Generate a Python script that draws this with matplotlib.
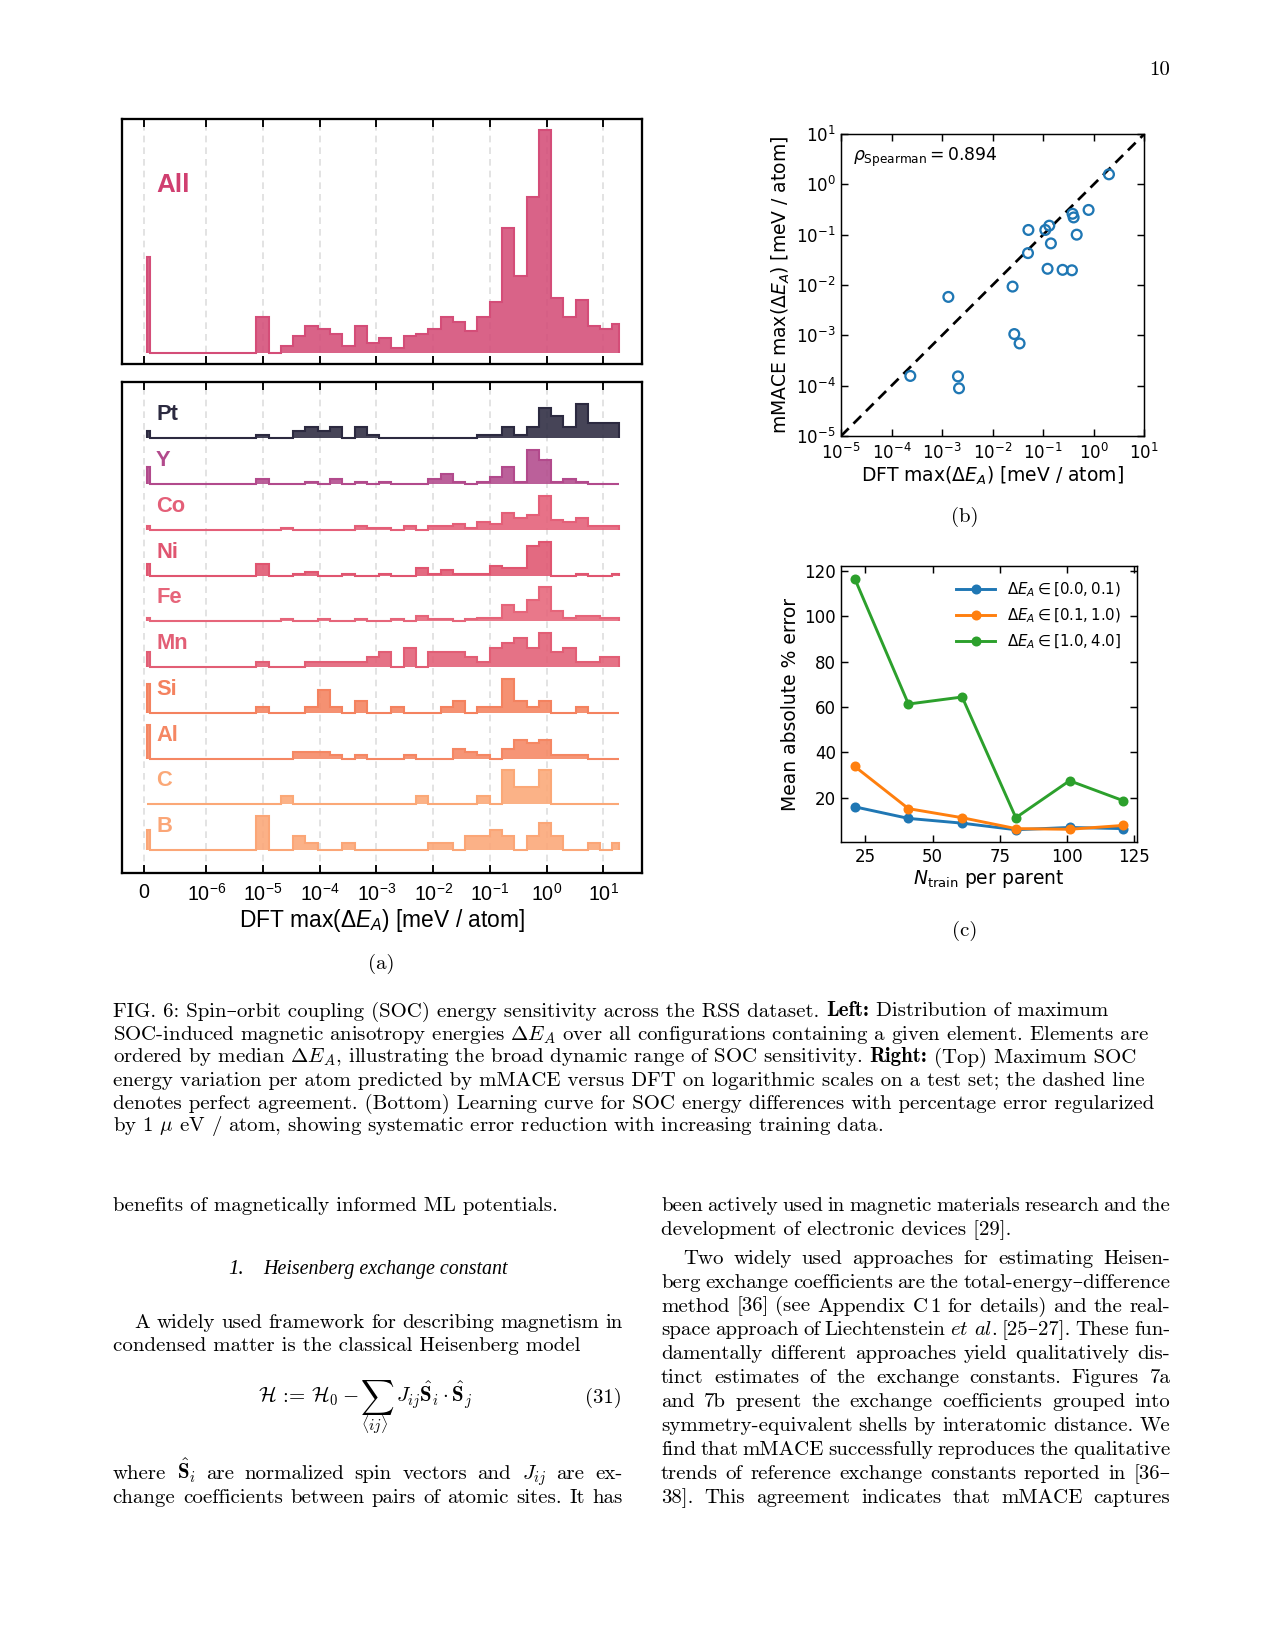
import numpy as np
import matplotlib
matplotlib.use('Agg')
import matplotlib.pyplot as plt
from matplotlib.ticker import NullLocator

W, H = 1275, 1651
DPI = 150

plt.rcParams['mathtext.fontset'] = 'dejavusans'
plt.rcParams['mathtext.rm'] = 'Liberation Sans'
plt.rcParams['mathtext.it'] = 'Liberation Sans:italic'
plt.rcParams['mathtext.bf'] = 'Liberation Sans:bold'

# ---------------- data ----------------
# (a) histograms of DFT max(dE_A), log10 bins; the first bin holds the exact zeros
zero_tick = -7.10
zero_bin = [-7.054, -6.988]
bin_first, bin_last_full, bin_end = -5.119, 1.160, 1.267

all_zero = 40
all_counts = [15, 0, 3, 7, 11, 10, 8, 3, 11, 4, 6, 2, 7, 8, 10, 15, 13, 9, 15, 21,
              52, 32, 65, 93, 23, 15, 22, 11, 10, 12]

elements = ['Pt', 'Y', 'Co', 'Ni', 'Fe', 'Mn', 'Si', 'Al', 'C', 'B']
el_zero = [2, 7, 2, 6, 2, 3, 5, 11, 0, 3]
el_counts = [
    [1, 0, 0, 2, 3, 2, 3, 0, 3, 1, 0, 0, 0, 0, 0, 0, 0, 0, 1, 1, 3, 1, 3, 8, 6, 3, 9, 4, 4, 4],
    [2, 0, 0, 0, 1, 0, 2, 0, 1, 0, 1, 0, 0, 0, 2, 4, 1, 0, 1, 3, 7, 1, 14, 10, 1, 2, 1, 0, 0, 0],
    [0, 0, 1, 0, 0, 0, 0, 0, 2, 1, 1, 0, 2, 0, 2, 2, 3, 1, 4, 3, 9, 6, 8, 18, 5, 4, 6, 2, 2, 2],
    [6, 0, 0, 1, 2, 0, 0, 1, 0, 0, 1, 0, 0, 4, 1, 3, 1, 1, 1, 5, 4, 4, 15, 17, 0, 0, 1, 0, 0, 1],
    [0, 0, 1, 0, 0, 1, 0, 0, 1, 0, 0, 1, 0, 3, 1, 1, 0, 1, 2, 2, 9, 5, 12, 19, 6, 2, 3, 3, 2, 2],
    [1, 0, 0, 0, 1, 1, 1, 1, 1, 2, 3, 0, 4, 0, 3, 3, 3, 2, 1, 4, 5, 6, 4, 7, 3, 4, 1, 1, 2, 2],
    [1, 0, 0, 0, 1, 4, 1, 0, 2, 0, 0, 1, 0, 0, 0, 1, 2, 0, 1, 1, 6, 2, 1, 2, 0, 0, 1, 0, 0, 0],
    [0, 0, 0, 2, 2, 2, 1, 0, 1, 0, 0, 0, 1, 0, 0, 0, 3, 2, 1, 0, 3, 6, 5, 6, 1, 1, 1, 0, 0, 0],
    [0, 0, 1, 0, 0, 0, 0, 0, 0, 0, 0, 0, 0, 1, 0, 0, 0, 0, 1, 0, 4, 2, 2, 4, 0, 0, 0, 0, 0, 0],
    [5, 0, 0, 2, 1, 0, 0, 1, 0, 0, 0, 0, 0, 0, 1, 1, 0, 2, 2, 3, 2, 0, 2, 4, 2, 0, 0, 1, 0, 1],
]
all_color = '#d44d78'
el_colors = ['#2c2a40', '#b24a8c', '#e45f78', '#e05570', '#e6657a', '#e25e75',
             '#f4825f', '#f58763', '#fba877', '#fba677']

# (b) mMACE vs DFT max(dE_A) [meV / atom]
dft_max = [2.0, 0.79, 0.38, 0.40, 0.46, 0.132, 0.11, 0.051, 0.142, 0.050,
           0.122, 0.242, 0.37, 0.0248, 0.00133, 0.0268, 0.0341, 0.000235, 0.00206, 0.00216]
mace_max = [1.58, 0.31, 0.26, 0.22, 0.10, 0.151, 0.124, 0.124, 0.067, 0.043,
            0.021, 0.020, 0.0196, 0.0093, 0.0058, 0.00106, 0.00069, 0.000156, 0.000153, 0.0000886]
rho_spearman = 0.894

# (c) learning curve
n_train = [21, 41, 61, 81, 101, 121]
err_low = [16.0, 10.9, 8.8, 5.9, 6.9, 6.4]
err_mid = [33.8, 15.2, 11.2, 6.4, 6.1, 7.8]
err_high = [116.6, 61.3, 64.4, 11.2, 27.5, 18.7]
range_labels = [r'$\Delta E_A \in [0.0, 0.1)$', r'$\Delta E_A \in [0.1, 1.0)$',
                r'$\Delta E_A \in [1.0, 4.0]$']

fig = plt.figure(figsize=(W / DPI, H / DPI), dpi=DPI)


def rect(x0, y0, x1, y1):
    return [x0 / W, 1 - y1 / H, (x1 - x0) / W, (y1 - y0) / H]


# ---------------- (a) histograms ----------------
edges = np.r_[zero_bin, np.linspace(bin_first, bin_last_full, 30), bin_end]
xticks = [zero_tick] + list(range(-6, 2))
xticklabels = ['0'] + [r'$\mathdefault{10^{%d}}$' % k for k in range(-6, 2)]
SANS = 'Liberation Sans'


def hist_row(ax, zero, counts, base, scale, color):
    vals = (np.r_[zero, 0, counts] * scale) + base
    ax.stairs(vals, edges, baseline=base, fill=True, color=color, alpha=0.88, lw=0)
    ax.stairs(vals, edges, baseline=base, fill=False, color=color, lw=1.0)


def style_hist_axes(ax):
    ax.set_xlim(-7.479, 1.673)
    ax.set_xticks(xticks)
    ax.set_yticks([])
    ax.grid(axis='x', color='#dedede', ls=(0, (4, 3)), lw=0.8)
    ax.set_axisbelow(True)
    ax.tick_params(axis='x', direction='in', top=True, length=4, width=0.9,
                   labelsize=9.5, pad=5)
    for s in ax.spines.values():
        s.set_linewidth(1.1)


ax_all = fig.add_axes(rect(122.4, 119, 641.6, 363.5))
hist_row(ax_all, all_zero, all_counts, 0, 1.0, all_color)
style_hist_axes(ax_all)
ax_all.set_xticklabels([])
ax_all.set_ylim(-4.5, 97.4)
ax_all.text(-6.886, 67, 'All', color='#d03f70', fontsize=12.5, fontweight='bold',
            family=SANS, va='baseline')

ax_el = fig.add_axes(rect(122.4, 382.3, 641.6, 872.7))
n = len(elements)
for i, (el, z, c, col) in enumerate(zip(elements, el_zero, el_counts, el_colors)):
    base = n - 1 - i
    peak = max([z] + c)
    hist_row(ax_el, z, c, base, 0.743 / peak, col)
    ax_el.text(-6.886, base + 0.39, el, color=col, fontsize=10.5, fontweight='bold',
               family=SANS, va='baseline')
style_hist_axes(ax_el)
ax_el.set_ylim(-0.496, n - 1 + 1.224)
ax_el.set_xticklabels(xticklabels, family=SANS, math_fontfamily='custom')
ax_el.set_xlabel(r'DFT max($\Delta E_A$) [meV / atom]', family=SANS, fontsize=10.9,
                 math_fontfamily='custom', labelpad=1)

# ---------------- (b) parity plot ----------------
ax_b = fig.add_axes(rect(841, 134, 1144.3, 436))
ax_b.plot([1e-5, 1e1], [1e-5, 1e1], 'k--', lw=1.3, dashes=(4, 2.5))
ax_b.scatter(dft_max, mace_max, s=22, facecolors='none', edgecolors='#1f77b4', lw=1.1,
             zorder=3)
ax_b.set_xscale('log')
ax_b.set_yscale('log')
ax_b.set_xlim(1e-5, 1e1)
ax_b.set_ylim(1e-5, 1e1)
ax_b.set_xticks([10.0 ** k for k in range(-5, 2)])
ax_b.set_yticks([10.0 ** k for k in range(-5, 2)])
ax_b.xaxis.set_minor_locator(NullLocator())
ax_b.yaxis.set_minor_locator(NullLocator())
ax_b.tick_params(direction='in', top=True, right=True, labelsize=8, width=0.7, pad=2.5)
ax_b.tick_params(axis='x', pad=3.5)
ax_b.set_xlabel(r'DFT max($\Delta E_A$) [meV / atom]', fontsize=9, labelpad=0.5)
ax_b.set_ylabel(r'mMACE max($\Delta E_A$) [meV / atom]', fontsize=9, labelpad=2)
ax_b.text(0.04, 0.912, r'$\rho_{\mathrm{Spearman}} = %.3f$' % rho_spearman,
          transform=ax_b.transAxes, fontsize=8.3, va='baseline')
for s in ax_b.spines.values():
    s.set_linewidth(0.7)

# ---------------- (c) learning curve ----------------
ax_c = fig.add_axes(rect(841.3, 566, 1136.7, 842.3))
for err, col, lab in zip([err_low, err_mid, err_high], ['#1f77b4', '#ff7f0e', '#2ca02c'],
                         range_labels):
    ax_c.plot(n_train, err, '-o', color=col, lw=1.4, ms=3.8, label=lab)
ax_c.set_xticks([25, 50, 75, 100, 125])
ax_c.set_yticks([20, 40, 60, 80, 100, 120])
ax_c.tick_params(direction='in', top=True, right=True, labelsize=8, width=0.7, pad=2.5)
ax_c.set_xlabel(r'$N_{\mathrm{train}}$ per parent', fontsize=9, labelpad=1)
ax_c.set_ylabel('Mean absolute % error', fontsize=9, labelpad=2)
ax_c.legend(loc='upper right', frameon=False, fontsize=7.2, handlelength=2.6,
            borderaxespad=0.6)
for s in ax_c.spines.values():
    s.set_linewidth(0.7)

# ---------------- page text ----------------
BODY = dict(family=['cmr10', 'DejaVu Serif'], fontsize=10, math_fontfamily='cm',
            va='baseline')
SPACE = 6.9  # interword space of 10pt CM at 150 dpi, px


def ptext(x, y, s, **kw):
    opts = dict(BODY)
    opts.update(kw)
    return fig.text(x / W, 1 - y / H, s, **opts)


renderer = fig.canvas.get_renderer()


def width(t):
    return t.get_window_extent(renderer).width


def justified(x0, x1, y, line):
    words = line.split(' ')
    ts = [ptext(x0, y, w) for w in words]
    widths = [width(t) for t in ts]
    gap = (x1 - x0 - sum(widths)) / (len(ts) - 1)
    x = x0
    for t, w in zip(ts, widths):
        t.set_x(x / W)
        x += w + gap


def run(x, y, parts):
    # consecutive pieces of one line, each with its own font
    for s, kw in parts:
        t = ptext(x, y, s, **kw)
        x += width(t) + SPACE


ptext(1160, 75, '10', ha='center')
ptext(381.7, 969, '(a)', ha='center')
ptext(964.4, 522, '(b)', ha='center')
ptext(964.4, 936, '(c)', ha='center')

BOLD = dict(family='cmb10')
cap_y = [1016.5 + 23.0 * k for k in range(6)]
run(112.7, cap_y[0], [('FIG. 6: Spin–orbit coupling (SOC) energy sensitivity across the RSS dataset.', {}),
                      ('Left:', BOLD), ('Distribution of maximum', {})])
ptext(112.7, cap_y[1], r'SOC-induced magnetic anisotropy energies $\Delta E_A$ over all '
                       r'configurations containing a given element. Elements are')
run(112.7, cap_y[2], [(r'ordered by median $\Delta E_A$, illustrating the broad dynamic range '
                       r'of SOC sensitivity.', {}),
                      ('Right:', BOLD), ('(Top) Maximum SOC', {})])
ptext(112.7, cap_y[3], 'energy variation per atom predicted by mMACE versus DFT on '
                       'logarithmic scales on a test set; the dashed line')
ptext(112.7, cap_y[4], 'denotes perfect agreement. (Bottom) Learning curve for SOC energy '
                       'differences with percentage error regularized')
ptext(112.7, cap_y[5], r'by 1 $\mu$ eV / atom, showing systematic error reduction with '
                       r'increasing training data.')

# left column
ptext(112.7, 1210.7, 'benefits of magnetically informed ML potentials.')
ITAL = dict(family='Liberation Serif', style='italic')
ptext(228.6, 1274.3, '1.', **ITAL)
head = ptext(263.4, 1274.3, 'Heisenberg exchange constant', **ITAL)
head.set_fontsize(10 * 246.0 / width(head))
justified(134.8, 622.4, 1327.7, 'A widely used framework for describing magnetism in')
ptext(112.7, 1351, 'condensed matter is the classical Heisenberg model')
eq_y = 1402.7
ptext(258.2, eq_y, r'$\mathcal{H}$ := $\mathcal{H}_0 -$')
ptext(360.5, 1397.5, r'$\sum$', fontsize=11.2, va='center')
ptext(374.6, 1431, r'$\langle ij\rangle$', ha='center', fontsize=7.5)
ptext(396.0, eq_y, r'$J_{ij}\hat{\mathbf{S}}_i \cdot \hat{\mathbf{S}}_j$')
ptext(621.4, eq_y, '(31)', ha='right')
justified(112.7, 622.4, 1479, r'where $\hat{\mathbf{S}}_i$ are normalized spin vectors and $J_{ij}$ are ex-')
justified(112.7, 622.4, 1502.7, 'change coefficients between pairs of atomic sites. It has')

# right column
right_lines = [
    (661.0, 1210.7, 'been actively used in magnetic materials research and the', True),
    (661.0, 1235.0, 'development of electronic devices [29].', False),
    (683.0, 1264.0, 'Two widely used approaches for estimating Heisen-', True),
    (661.0, 1287.6, 'berg exchange coefficients are the total-energy–difference', True),
    (661.0, 1311.5, r'method [36] (see Appendix $\mathrm{C}\,\mathrm{1}$ for details) and the real-', True),
    (661.0, 1335.4, r'space approach of Liechtenstein $\mathit{et}$ $\mathit{al}$. [25–27]. These fun-', True),
    (661.0, 1359.3, 'damentally different approaches yield qualitatively dis-', True),
    (661.0, 1383.2, 'tinct estimates of the exchange constants. Figures 7a', True),
    (661.0, 1407.1, 'and 7b present the exchange coefficients grouped into', True),
    (661.0, 1431.0, 'symmetry-equivalent shells by interatomic distance. We', True),
    (661.0, 1454.9, 'find that mMACE successfully reproduces the qualitative', True),
    (661.0, 1478.8, 'trends of reference exchange constants reported in [36–', True),
    (661.0, 1502.7, '38]. This agreement indicates that mMACE captures', True),
]
for x0, y, line, just in right_lines:
    if just:
        justified(x0, 1170.3, y, line)
    else:
        ptext(x0, y, line)

fig.savefig('out.png', dpi=DPI)
